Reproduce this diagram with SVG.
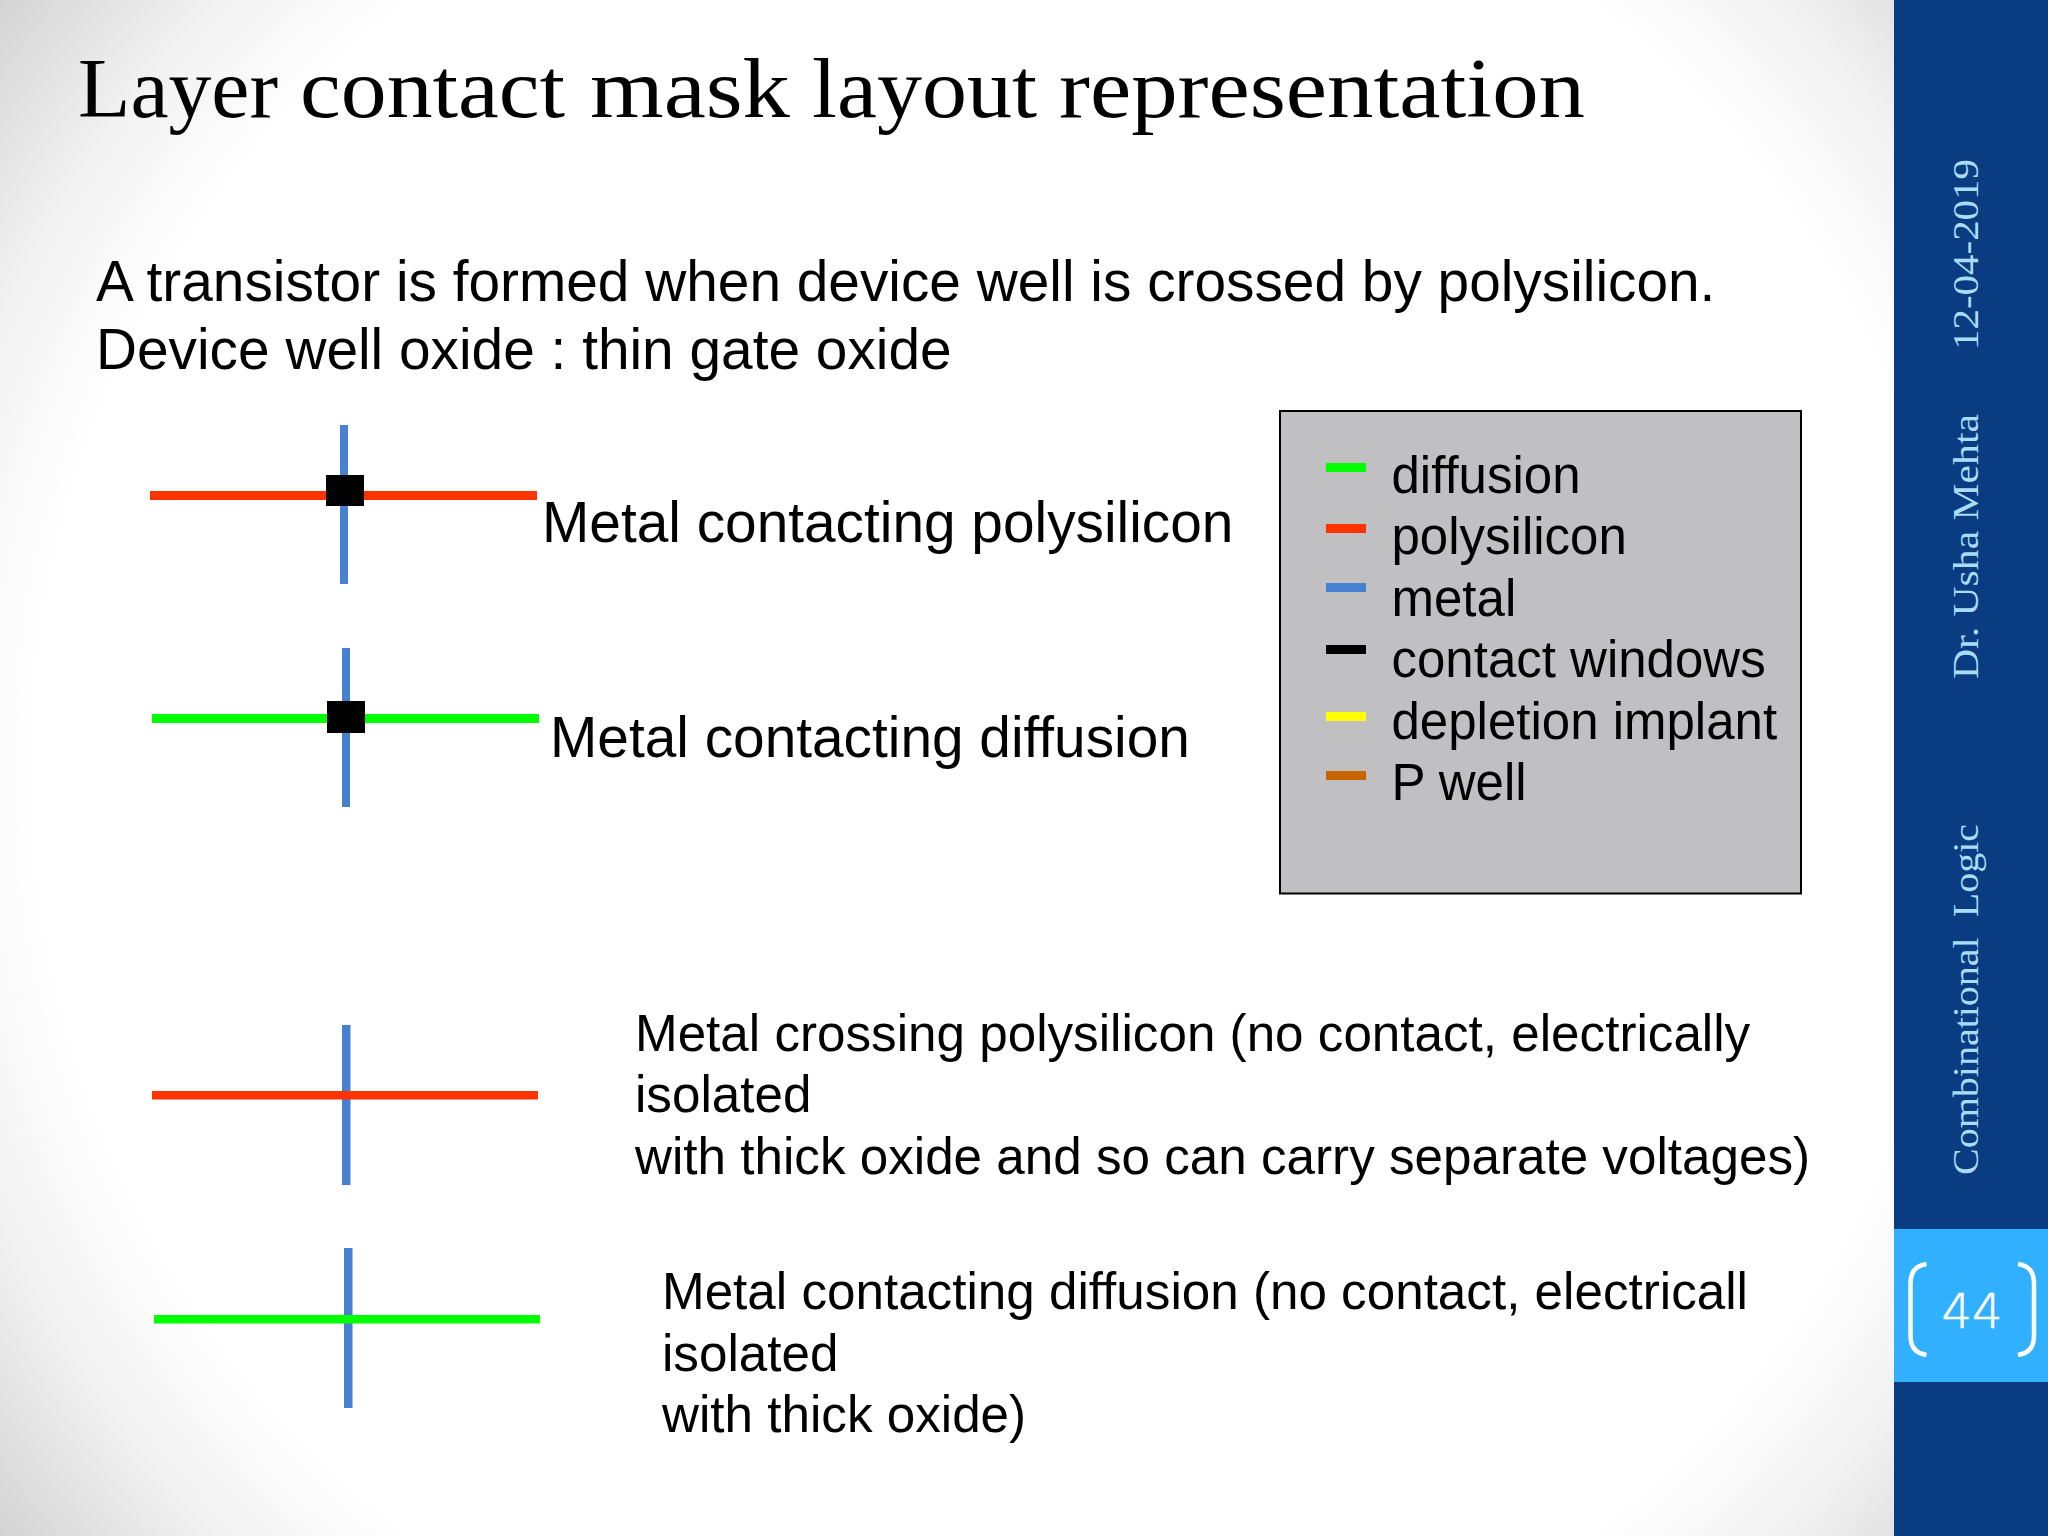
<svg xmlns="http://www.w3.org/2000/svg" width="2048" height="1536" viewBox="0 0 2048 1536">
<defs>
<radialGradient id="bg" gradientUnits="userSpaceOnUse" cx="1000" cy="768" r="1270">
<stop offset="0" stop-color="#ffffff"/><stop offset="0.76" stop-color="#ffffff"/><stop offset="0.86" stop-color="#f2f2f3"/><stop offset="1" stop-color="#d2d2d2"/>
</radialGradient>
</defs>
<style>
text{font-family:"Liberation Sans",Arial,sans-serif;fill:#000}
.t{font-size:56.800px}
.b{font-size:51.200px}
.l{font-size:51px}
.s{font-family:"Liberation Serif",serif;font-size:36px;fill:#a8dcf8}
.m{fill:#477fd1}.p{fill:#ff3300}.d{fill:#00ff00}.c{fill:#000}
</style>
<rect width="2048" height="1536" fill="url(#bg)"/>
<g id="sidebar">
<rect x="1894" y="0" width="154" height="1536" fill="#0a3c82"/>
<rect x="1894" y="1229" width="154" height="153" fill="#31b0ff"/>
<text class="s" transform="translate(1978 350) rotate(-90)" textLength="191" lengthAdjust="spacingAndGlyphs">12-04-2019</text>
<text class="s" transform="translate(1978 679) rotate(-90)" textLength="265" lengthAdjust="spacingAndGlyphs">Dr. Usha Mehta</text>
<text class="s" transform="translate(1978 1175) rotate(-90)" xml:space="preserve" textLength="351" lengthAdjust="spacingAndGlyphs">Combinational  Logic</text>
<path d="M1926.500 1264C1915 1266 1910.500 1272 1910.500 1284V1335C1910.500 1347 1915 1353 1926.500 1355M2018 1264C2029.500 1266 2034 1272 2034 1284V1335C2034 1347 2029.500 1353 2018 1355" fill="none" stroke="#fff" stroke-width="4.500"/>
<text x="1972" y="1328" text-anchor="middle" style="font-family:'DejaVu Sans ExtraLight','DejaVu Sans Light','DejaVu Sans',sans-serif;font-weight:200;font-size:48px;fill:#fff;stroke:#fff;stroke-width:0.600px">44</text>
</g>
<text id="title" y="117" style="font-family:'Liberation Serif',serif;font-size:84px"><tspan x="78" textLength="200" lengthAdjust="spacingAndGlyphs">Layer</tspan> <tspan x="300" textLength="265" lengthAdjust="spacingAndGlyphs">contact</tspan> <tspan x="590" textLength="200" lengthAdjust="spacingAndGlyphs">mask</tspan> <tspan x="812" textLength="225" lengthAdjust="spacingAndGlyphs">layout</tspan> <tspan x="1059" textLength="526" lengthAdjust="spacingAndGlyphs">representation</tspan></text>
<g id="intro">
<text class="t" x="96" y="301">A transistor is formed when device well is crossed by polysilicon.</text>
<text class="t" x="96" y="369">Device well oxide : thin gate oxide</text>
</g>
<g id="cross1">
<rect class="m" x="340" y="425" width="8" height="159"/>
<rect class="p" x="150" y="491" width="387" height="9"/>
<rect class="c" x="326" y="475" width="38" height="31"/>
<text class="t" x="542" y="542">Metal contacting polysilicon</text>
</g>
<g id="cross2">
<rect class="m" x="342" y="648" width="8" height="159"/>
<rect class="d" x="152" y="714" width="387" height="9"/>
<rect class="c" x="327" y="701" width="38" height="32"/>
<text class="t" x="550" y="757">Metal contacting diffusion</text>
</g>
<g id="cross3">
<rect class="m" x="342" y="1025" width="8.500" height="160"/>
<rect class="p" x="152" y="1091" width="386" height="8.500"/>
<text class="b" x="635" y="1050.500">Metal crossing polysilicon (no contact, electrically</text>
<text class="b" x="635" y="1112">isolated</text>
<text class="b" x="635" y="1173.500">with thick oxide and so can carry separate voltages)</text>
</g>
<g id="cross4">
<rect class="m" x="344" y="1248" width="8.500" height="160"/>
<rect class="d" x="154" y="1315" width="386" height="8.500"/>
<text class="b" x="662" y="1309">Metal contacting diffusion (no contact, electricall</text>
<text class="b" x="662" y="1370.500">isolated</text>
<text class="b" x="662" y="1432">with thick oxide)</text>
</g>
<g id="legend">
<rect x="1280" y="411" width="521" height="482.500" fill="#c0bfc1" stroke="#000" stroke-width="2"/>
<rect class="d" x="1326" y="463" width="40" height="9"/>
<rect class="p" x="1326" y="524" width="40" height="9"/>
<rect class="m" x="1326" y="583" width="40" height="9"/>
<rect class="c" x="1326" y="645" width="40" height="9"/>
<rect x="1326" y="712" width="40" height="9" fill="#ffff00"/>
<rect x="1326" y="771" width="40" height="9" fill="#c86400"/>
<text class="l" x="1391.500" y="493">diffusion</text>
<text class="l" x="1391.500" y="554">polysilicon</text>
<text class="l" x="1391.500" y="616">metal</text>
<text class="l" x="1391.500" y="677">contact windows</text>
<text class="l" x="1391.500" y="739">depletion implant</text>
<text class="l" x="1391.500" y="800">P well</text>
</g>
</svg>
